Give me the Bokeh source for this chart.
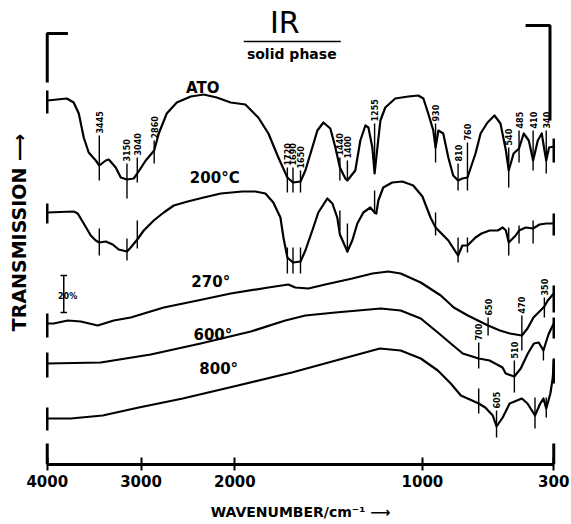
import numpy as np
from bokeh.plotting import figure
from bokeh.models import Range1d, FixedTicker
from bokeh.core.properties import value
from bokeh.embed import file_html
from bokeh.resources import INLINE

# ---------------- data ----------------
# wavenumbers in cm-1, transmission in chart units (curves are offset)
ato_wn = [4000, 3792, 3718, 3664, 3611, 3558, 3483, 3445, 3376, 3344, 3270, 3216, 3150, 3078, 3040, 2950,
          2860, 2811, 2726, 2619, 2470, 2332, 2193, 2044, 1944, 1875, 1821, 1768, 1720, 1690, 1650, 1624,
          1587, 1560, 1528, 1491, 1464, 1440, 1411, 1400, 1358, 1331, 1304, 1288, 1267, 1255, 1240, 1224,
          1198, 1145, 1075, 1022, 995, 969, 942, 930, 915, 889, 862, 836, 810, 787, 760, 717, 690, 653,
          616, 584, 555, 540, 514, 485, 460, 433, 410, 385, 364, 352, 340, 325, 300]
ato_t = [364, 366, 362, 351, 327, 312, 304, 299, 304, 305, 297, 287, 285, 286, 291, 304,
         314, 331, 351, 362, 368, 370, 367, 362, 360, 347, 331, 307, 287, 282, 283, 294,
         317, 334, 342, 336, 317, 297, 286, 284, 294, 324, 339, 337, 317, 291, 317, 344,
         357, 366, 368, 369, 366, 351, 334, 317, 334, 331, 307, 289, 284, 286, 287, 311, 331, 342,
         349, 341, 314, 294, 311, 316, 331, 324, 304, 324, 331, 317, 304, 317, 318]

c200_wn = [4000, 3718, 3675, 3611, 3536, 3483, 3445, 3376, 3302, 3238, 3150, 3110, 3040, 2971, 2865, 2758,
           2651, 2502, 2332, 2150, 1960, 1891, 1837, 1795, 1757, 1741, 1720, 1690, 1650, 1624, 1587, 1555,
           1507, 1480, 1454, 1440, 1400, 1374, 1347, 1315, 1278, 1255, 1246, 1235, 1209, 1161, 1107, 1049,
           1000, 957, 930, 862, 810, 787, 760, 717, 685, 642, 599, 572, 555, 540, 503, 485, 449, 410, 376,
           339, 300]
c200_t = [252, 253, 251, 241, 229, 224, 222, 223, 220, 215, 213, 217, 225, 234, 244, 252,
          259, 263, 267, 271, 273, 273, 271, 262, 247, 227, 207, 202, 203, 214, 234, 252,
          266, 261, 247, 230, 213, 224, 241, 252, 257, 252, 251, 264, 277, 282, 283, 279,
          268, 247, 237, 224, 209, 219, 219, 227, 231, 234, 234, 237, 234, 222, 229, 234, 237, 236, 240,
          241, 241]

c270_wn = [4000, 3931, 3781, 3643, 3462, 3291, 3110, 2758, 2396, 2044, 1821, 1715, 1678, 1608, 1518, 1374,
           1267, 1182, 1116, 1009, 902, 833, 758, 704, 650, 587, 534, 470, 440, 408, 360, 350, 332, 300]
c270_t = [141, 141, 144, 143, 139, 144, 147, 157, 164, 171, 177, 180, 177, 176, 180, 186,
          191, 193, 191, 182, 169, 157, 149, 144, 139, 134, 131, 129, 136, 147, 156, 158, 164, 171]

c600_wn = [4000, 3430, 2897, 2364, 1915, 1731, 1624, 1464, 1222, 1116, 1009, 918, 849, 785, 700, 642,
           573, 556, 510, 476, 438, 406, 380, 355, 342, 326, 300]
c600_t = [101, 102, 110, 121, 133, 144, 149, 152, 156, 154, 146, 132, 121, 111, 106, 104,
          97, 91, 88, 96, 111, 121, 122, 114, 122, 131, 141]

c800_wn = [4000, 3750, 3409, 3024, 2555, 1984, 1696, 1403, 1227, 1116, 1009, 918, 849, 795, 700, 665,
           625, 605, 572, 535, 470, 440, 400, 372, 355, 340, 318, 305, 300]
c800_t = [46, 46, 49, 57, 66, 79, 92, 107, 116, 114, 106, 94, 81, 69, 61, 57,
          49, 38, 47, 61, 66, 61, 49, 61, 66, 56, 71, 87, 104]

# band marks: wavenumber, lower / upper end of the mark, label
ato_mark_wn = [3445, 3150, 3040, 2860, 1720, 1690, 1650, 1440, 1400, 1255, 930, 810, 760, 540, 485, 410, 340]
ato_mark_lo = [284, 266, 282, 301, 272, 272, 272, 284, 284, 291, 302, 274, 274, 277, 302, 294, 291]
ato_mark_hi = [329, 301, 307, 324, 297, 297, 294, 307, 304, 341, 341, 301, 322, 317, 334, 334, 334]
ato_mark_txt = ["3445", "3150", "3040", "2860", "1720", "1690", "1650", "1440", "1400", "1255",
                "930", "810", "760", "540", "485", "410", "340"]

c200_mark_wn = [3445, 3150, 3040, 1720, 1690, 1650, 1440, 1400, 1255, 930, 810, 760, 540, 485, 410]
c200_mark_lo = [209, 204, 216, 191, 191, 191, 234, 212, 251, 229, 202, 212, 209, 221, 221]
c200_mark_hi = [236, 226, 244, 217, 217, 217, 254, 241, 274, 252, 227, 227, 237, 239, 244]

c270_mark_wn = [650, 470, 350]
c270_mark_lo = [129, 114, 147]
c270_mark_hi = [147, 149, 167]
c270_mark_txt = ["650", "470", "350"]

c600_mark_wn = [700, 510, 355]
c600_mark_lo = [96, 72, 104]
c600_mark_hi = [122, 104, 117]
c600_mark_txt = ["700", "510", ""]

c800_mark_wn = [700, 605, 400, 340]
c800_mark_lo = [51, 27, 36, 47]
c800_mark_hi = [76, 54, 67, 67]
c800_mark_txt = ["", "605", "", ""]

# end marks of each trace (low, high) at 4000 and 300 cm-1
start_marks = [(351, 374), (241, 261), (127, 151), (87, 112), (34, 57)]
end_marks = [(302, 326), (229, 251), (152, 179), (126, 147), (81, 106)]

curve_names = ["ATO", "200°C", "270°", "600°", "800°"]
curve_name_wn = [2342, 2214, 2257, 2234, 2172]
curve_name_t = [377, 287, 183, 130, 96]

tick_wn = [4000, 3000, 2000, 1000, 300]


# chart paper: 4000-2000 cm-1 at half the scale of 2000-300 cm-1
def u_of(wn):
    wn = np.asarray(wn, dtype=float)
    return np.where(wn >= 2000, (4000.0 - wn) / 1000.0, 2.0 + (2000.0 - wn) / 500.0)


FONT = value("DejaVu Sans")

p = figure(width=571, height=524, x_range=Range1d(-0.04, 5.44), y_range=Range1d(0, 464),
           output_backend="svg", toolbar_location=None,
           min_border_left=43, min_border_right=14, min_border_top=0, min_border_bottom=60)
p.outline_line_color = None
p.grid.visible = False
p.background_fill_color = "white"
p.border_fill_color = "white"

# x axis
tick_u = [float(v) for v in u_of(tick_wn)]
p.xaxis.ticker = FixedTicker(ticks=tick_u)
p.xaxis.major_label_overrides = {u: str(w) for u, w in zip(tick_u, tick_wn)}
p.xaxis.bounds = (0, float(u_of(300)))
p.xaxis.axis_line_width = 3
p.xaxis.axis_line_color = "black"
p.xaxis.major_tick_line_width = 2
p.xaxis.major_tick_line_color = "black"
p.xaxis.major_tick_in = 7
p.xaxis.major_tick_out = 6
p.xaxis.minor_tick_line_color = None
p.xaxis.major_label_standoff = 4
p.xaxis.major_label_text_font = "DejaVu Sans"
p.xaxis.major_label_text_font_style = "bold"
p.xaxis.major_label_text_font_size = "15px"
p.xaxis.major_label_text_color = "black"
p.xaxis.axis_label = "WAVENUMBER/cm\u207b\u00b9 \u27f6"
p.xaxis.axis_label_text_font = "DejaVu Sans"
p.xaxis.axis_label_text_font_style = "bold"
p.xaxis.axis_label_text_font_size = "14px"
p.xaxis.axis_label_text_color = "black"
p.xaxis.axis_label_standoff = 14

# y axis: only its title
p.yaxis.ticker = FixedTicker(ticks=[])
p.yaxis.axis_line_color = None
p.yaxis.major_tick_line_color = None
p.yaxis.minor_tick_line_color = None
p.yaxis.major_label_text_font_size = "0px"
p.yaxis.major_label_standoff = 0
p.yaxis.major_tick_out = 0
p.yaxis.axis_label = "TRANSMISSION \u27f6"
p.yaxis.axis_label_text_font = "DejaVu Sans"
p.yaxis.axis_label_text_font_style = "bold"
p.yaxis.axis_label_text_font_size = "19px"
p.yaxis.axis_label_text_color = "black"
p.yaxis.axis_label_standoff = 14

# spectra
curves = [(ato_wn, ato_t), (c200_wn, c200_t), (c270_wn, c270_t), (c600_wn, c600_t), (c800_wn, c800_t)]
for wn, t in curves:
    p.line(u_of(wn), t, line_color="black", line_width=2.2, line_join="round")

# end marks of the traces
u0, u1 = float(u_of(4000)), float(u_of(300))
p.segment(x0=[u0] * 5, y0=[a for a, b in start_marks], x1=[u0] * 5, y1=[b for a, b in start_marks],
          line_color="black", line_width=2.5)
p.segment(x0=[u1] * 5, y0=[a for a, b in end_marks], x1=[u1] * 5, y1=[b for a, b in end_marks],
          line_color="black", line_width=2.5)

# band marks
all_marks = [(ato_mark_wn, ato_mark_lo, ato_mark_hi, ato_mark_txt),
             (c200_mark_wn, c200_mark_lo, c200_mark_hi, [""] * len(c200_mark_wn)),
             (c270_mark_wn, c270_mark_lo, c270_mark_hi, c270_mark_txt),
             (c600_mark_wn, c600_mark_lo, c600_mark_hi, c600_mark_txt),
             (c800_mark_wn, c800_mark_lo, c800_mark_hi, c800_mark_txt)]
lx, ly, lt = [], [], []
for wn, lo, hi, txt in all_marks:
    uu = u_of(wn)
    p.segment(x0=uu, y0=lo, x1=uu, y1=hi, line_color="black", line_width=1.4)
    for a, h, s in zip(uu, hi, txt):
        if s:
            lx.append(float(a)); ly.append(h + 2); lt.append(s)
p.text(x=lx, y=ly, text=lt, angle=np.pi / 2, text_font=FONT, text_font_style="bold",
       text_font_size="8px", text_align="left", text_baseline="middle", text_color="black")

# curve names
p.text(x=u_of(curve_name_wn), y=curve_name_t, text=curve_names, text_font=FONT,
       text_font_style="bold", text_font_size="15px", text_align="center",
       text_baseline="middle", text_color="black")

# title
p.text(x=[2.532], y=[442], text=["IR"], text_font=FONT, text_font_size="30px",
       text_align="center", text_baseline="middle", text_color="black")
p.line([2.095, 3.129], [423, 423], line_color="black", line_width=1.5)
p.text(x=[2.607], y=[411], text=["solid phase"], text_font=FONT, text_font_style="bold",
       text_font_size="14px", text_align="center", text_baseline="middle", text_color="black")

# corner brackets
p.line([0.0, 0.0, 0.22], [382, 431, 431], line_color="black", line_width=3)
p.line([5.1, 5.36, 5.36], [439, 439, 344], line_color="black", line_width=3)

# axis end posts
p.segment(x0=[u0, u1], y0=[0, 0], x1=[u0, u1], y1=[21, 21], line_color="black", line_width=3)

# 20 % scale bar
p.segment(x0=[0.176, 0.141, 0.141], y0=[152, 189, 152], x1=[0.176, 0.211, 0.211], y1=[189, 189, 152],
          line_color="black", line_width=1.5)
p.text(x=[0.115], y=[168], text=["20%"], text_font=FONT, text_font_style="bold",
       text_font_size="8px", text_align="left", text_baseline="middle", text_color="black")

open("out.html", "w").write(file_html(p, INLINE))
